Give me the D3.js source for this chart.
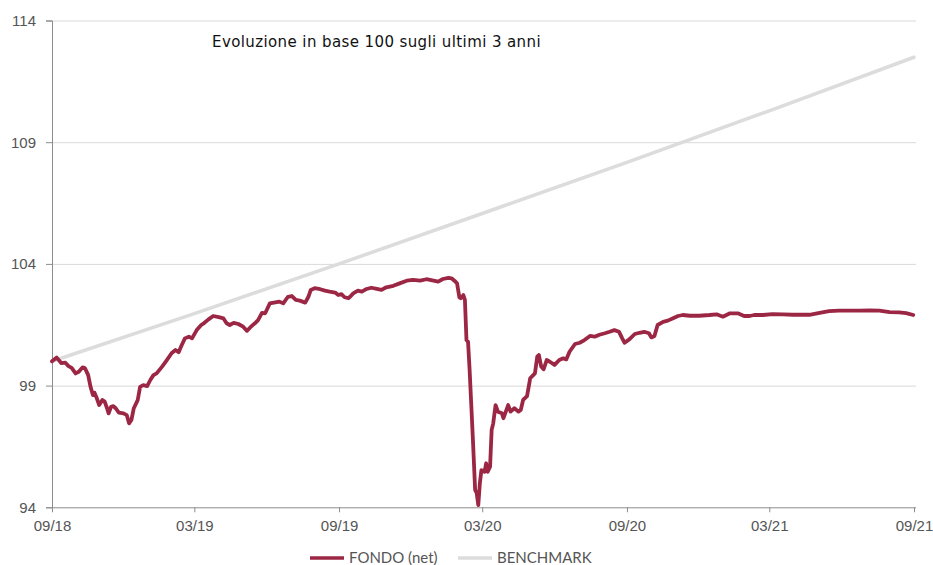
<!DOCTYPE html>
<html>
<head>
<meta charset="utf-8">
<script src="https://cdn.jsdelivr.net/npm/d3@7"></script>
<style>
    body { margin: 0; background: #fff; }
    svg { display: block; font-family: Lato, "Open Sans", sans-serif; }
</style>
</head>
<body>
<script>
// start of the 3-year window; series are [days since start, value]
const startDate = "2018-09-28";
const endDate = "2021-09-28";
const yTicks = [94, 99, 104, 109, 114];
const xTickMonths = [0, 6, 12, 18, 24, 30, 36];
const titleText = "Evoluzione in base 100 sugli ultimi 3 anni";
const seriesNames = ["FONDO (net)", "BENCHMARK"];

const fundSeries = [
    [0, 100.00], [6, 100.15], [12, 99.92], [17, 99.94], [21, 99.80], [25, 99.73], [30, 99.50],
    [34, 99.57], [39, 99.75], [42, 99.71], [46, 99.43], [49, 98.95], [52, 98.61], [54, 98.71],
    [57, 98.48], [60, 98.20], [64, 98.41], [67, 98.34], [70, 98.07], [72, 97.86], [75, 98.13],
    [78, 98.16], [81, 98.07], [85, 97.89], [91, 97.86], [95, 97.79], [98, 97.45], [101, 97.59],
    [104, 98.07], [107, 98.27], [109, 98.41], [112, 98.95], [116, 99.02], [121, 98.98],
    [125, 99.23], [129, 99.43], [133, 99.50], [140, 99.78], [146, 100.05], [152, 100.33],
    [157, 100.46], [161, 100.37], [165, 100.67], [169, 100.94], [174, 101.01], [178, 100.94],
    [184, 101.28], [190, 101.50], [193, 101.56], [199, 101.72], [205, 101.86], [212, 101.81],
    [218, 101.76], [222, 101.56], [226, 101.49], [231, 101.58], [237, 101.53], [243, 101.42],
    [248, 101.25], [252, 101.39], [258, 101.56], [262, 101.69], [267, 101.99], [271, 101.97],
    [277, 102.38], [284, 102.42], [289, 102.45], [294, 102.38], [300, 102.65], [305, 102.68],
    [310, 102.52], [315, 102.49], [322, 102.41], [326, 102.65], [329, 102.93], [334, 103.00],
    [341, 102.96], [347, 102.90], [353, 102.86], [360, 102.82], [364, 102.72], [368, 102.76],
    [372, 102.63], [377, 102.59], [379, 102.65], [383, 102.79], [389, 102.90], [394, 102.86],
    [400, 102.97], [406, 103.02], [413, 102.97], [419, 102.93], [425, 103.04], [434, 103.10],
    [442, 103.20], [451, 103.31], [459, 103.34], [468, 103.31], [476, 103.37], [485, 103.31],
    [491, 103.27], [497, 103.38], [504, 103.43], [508, 103.41], [512, 103.30], [515, 103.20],
    [518, 102.62], [520, 102.59], [523, 102.72], [525, 102.52], [527, 100.87], [529, 100.80],
    [531, 99.64], [533, 98.27], [535, 96.90], [538, 94.71], [540, 94.58], [542, 94.09],
    [544, 94.99], [546, 95.53], [550, 95.46], [552, 95.81], [554, 95.46], [557, 95.67],
    [559, 97.18], [561, 97.45], [564, 98.20], [567, 97.93], [572, 97.86], [574, 97.66],
    [580, 98.20], [583, 97.93], [588, 98.07], [593, 97.93], [596, 98.00], [599, 98.41],
    [604, 98.57], [608, 99.30], [614, 99.50], [617, 100.19], [619, 100.26], [622, 99.78],
    [625, 99.67], [629, 100.05], [633, 99.98], [639, 99.85], [645, 100.05], [650, 100.12],
    [654, 100.08], [658, 100.39], [665, 100.71], [671, 100.76], [677, 100.87], [684, 101.04],
    [690, 101.01], [696, 101.09], [703, 101.15], [709, 101.21], [715, 101.28], [721, 101.21],
    [725, 100.94], [728, 100.76], [734, 100.90], [741, 101.12], [747, 101.17], [753, 101.21],
    [759, 101.15], [762, 100.98], [766, 101.04], [770, 101.49], [777, 101.62], [783, 101.67],
    [789, 101.76], [796, 101.86], [802, 101.90], [811, 101.87], [823, 101.87], [836, 101.90],
    [845, 101.93], [853, 101.83], [862, 101.97], [872, 101.97], [880, 101.86], [887, 101.86],
    [893, 101.90], [904, 101.90], [916, 101.94], [929, 101.93], [942, 101.91], [955, 101.91],
    [963, 101.91], [976, 101.99], [988, 102.06], [1001, 102.08], [1014, 102.08], [1027, 102.08],
    [1039, 102.09], [1052, 102.08], [1065, 102.02], [1077, 102.01], [1086, 101.98], [1095, 101.90]
];

const benchmarkSeries = [
    [0, 100.00], [181, 101.96], [365, 104.00], [547, 106.07], [731, 108.17], [912, 110.29], [1096, 112.49]
];

const colors = ["#9c2744", "#dcdcdc"];

class PerformanceChart {
    constructor() {
        this.width = 933;
        this.height = 565;
        this.left = 52;
        this.right = 914;
        this.top = 20.5;
        this.bottom = 507.3;
        this.svg = null;
        this.x = null;
        this.y = null;
    }

    init() {
        this.svg = d3.select("body").append("svg")
            .attr("width", this.width)
            .attr("height", this.height);

        const start = d3.timeParse("%Y-%m-%d")(startDate);
        const end = d3.timeParse("%Y-%m-%d")(endDate);
        this.start = start;

        this.x = d3.scaleTime().domain([start, end]).range([this.left, this.right]);
        this.y = d3.scaleLinear().domain([94, 114]).range([this.bottom, this.top]);

        this.drawGrid();
        this.drawAxes();
        this.drawLines();
        this.drawTitle();
        this.drawLegend();
    }

    toRows(series) {
        return series.map(([d, v]) => ({ date: d3.timeDay.offset(this.start, d), value: v }));
    }

    drawGrid() {
        const grid = this.svg.append("g")
            .attr("transform", `translate(${this.left},0)`)
            .call(d3.axisLeft(this.y)
                .tickValues(yTicks.slice(1))
                .tickSize(-(this.right + 2 - this.left))
                .tickFormat(""));
        grid.select(".domain").remove();
        grid.selectAll("line").attr("stroke", "#d9d9d9").attr("stroke-width", 1);
    }

    drawAxes() {
        const yAxis = this.svg.append("g")
            .attr("transform", `translate(${this.left},0)`)
            .call(d3.axisLeft(this.y)
                .tickValues(yTicks)
                .tickSize(6)
                .tickPadding(10));
        yAxis.select(".domain").attr("stroke", "#8c8c8c");
        yAxis.selectAll("line").attr("stroke", "#8c8c8c");
        yAxis.selectAll("text")
            .attr("fill", "#555")
            .style("font-size", "15px");

        const xTicks = xTickMonths.map(m => d3.timeMonth.offset(this.start, m));
        const xAxis = this.svg.append("g")
            .attr("transform", `translate(0,${this.bottom})`)
            .call(d3.axisBottom(this.x)
                .tickValues(xTicks)
                .tickSize(5)
                .tickSizeOuter(0)
                .tickPadding(8)
                .tickFormat(d3.timeFormat("%m/%y")));
        xAxis.select(".domain")
            .attr("stroke", "#8c8c8c")
            .attr("d", `M${this.left},0.5H${this.right + 2}`);
        xAxis.selectAll("line").attr("stroke", "#8c8c8c");
        xAxis.selectAll("text")
            .attr("fill", "#555")
            .style("font-size", "15px");
    }

    drawLines() {
        const line = d3.line()
            .x(d => this.x(d.date))
            .y(d => this.y(d.value));

        this.svg.append("path")
            .datum(this.toRows(benchmarkSeries))
            .attr("fill", "none")
            .attr("stroke", colors[1])
            .attr("stroke-width", 3.5)
            .attr("stroke-linecap", "round")
            .attr("d", line);

        this.svg.append("path")
            .datum(this.toRows(fundSeries))
            .attr("fill", "none")
            .attr("stroke", colors[0])
            .attr("stroke-width", 3.8)
            .attr("stroke-linejoin", "round")
            .attr("stroke-linecap", "round")
            .attr("d", line);
    }

    drawTitle() {
        this.svg.append("text")
            .attr("x", 212)
            .attr("y", 46.7)
            .attr("fill", "#111")
            .style("font-family", "'DejaVu Sans', sans-serif")
            .style("font-size", "15px")
            .style("letter-spacing", "0.4px")
            .text(titleText);
    }

    drawLegend() {
        const items = [
            { name: seriesNames[0], color: colors[0], x: 310 },
            { name: seriesNames[1], color: colors[1], x: 458 }
        ];
        const g = this.svg.append("g").attr("transform", "translate(0,558)");
        items.forEach(item => {
            g.append("line")
                .attr("x1", item.x).attr("x2", item.x + 34)
                .attr("y1", 0).attr("y2", 0)
                .attr("stroke", item.color)
                .attr("stroke-width", 3.5);
            g.append("text")
                .attr("x", item.x + 39)
                .attr("y", 0)
                .attr("dy", "0.35em")
                .attr("fill", "#555")
                .style("font-size", "15px")
                .text(item.name);
        });
    }
}

const chart = new PerformanceChart();
chart.init();
</script>
</body>
</html>
